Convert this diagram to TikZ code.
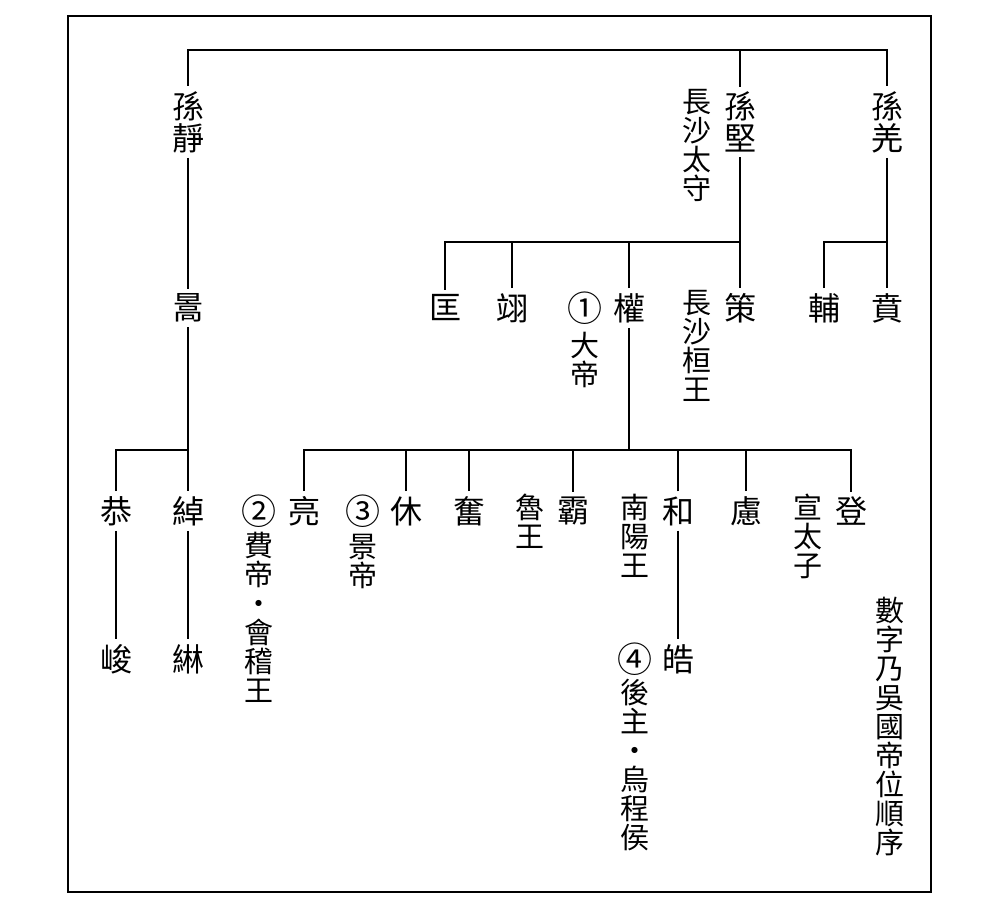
\documentclass[tikz,border=0pt]{standalone}
\usepackage{fontspec}
\setmainfont{Noto Sans CJK TC}
\begin{document}
\begin{tikzpicture}[x=1pt,y=-1pt,
  person/.style={font=\fontsize{32pt}{32pt}\selectfont, align=center, inner xsep=1pt, inner ysep=5pt},
  order/.style={font=\fontsize{35pt}{35pt}\selectfont, inner sep=0pt},
  note/.style={font=\fontsize{29pt}{29pt}\selectfont, align=center, inner sep=0pt, anchor=north},
  link/.style={line width=1.3pt},
  frame/.style={line width=2pt}]
\useasboundingbox (0,0) rectangle (1000,909);
\draw[frame] (68,16) rectangle (931,892);

% levels of the horizontal bars
\coordinate (bar0) at (0,50);
\coordinate (bar1) at (0,242);
\coordinate (bar2) at (0,450);

% first generation
\node[person] (jing)  at (188,122) {孫\\靜};
\node[person] (jian)  at (740,122) {孫\\堅};
\node[person] (qiang) at (887,122) {孫\\羌};
\node[note] (jiannote) at (697,89) {長\\沙\\太\\守};

% second generation
\node[person] (hao)   at (188,308) {暠};
\node[person] (kuang) at (445,308) {匡};
\node[person] (yi)    at (512,308) {翊};
\node[person] (quan)  at (629,308) {權};
\node[person] (ce)    at (740,308) {策};
\node[person] (fu)    at (824,308) {輔};
\node[person] (ben)   at (887,308) {賁};
\node[order] (n1)     at (585,308) {①};
\node[note] (quannote) at (585,332) {大\\帝};
\node[note] (cenote)   at (697,290) {長\\沙\\桓\\王};

% third generation
\node[person] (gong)  at (116,511) {恭};
\node[person] (chuo)  at (188,511) {綽};
\node[person] (liang) at (304,511) {亮};
\node[person] (xiu)   at (406,511) {休};
\node[person] (fen)   at (469,511) {奮};
\node[person] (ba)    at (573,511) {霸};
\node[person] (he)    at (678,511) {和};
\node[person] (lu)    at (746,511) {慮};
\node[person] (deng)  at (851,511) {登};
\node[order] (n2)     at (259,511) {②};
\node[order] (n3)     at (363,511) {③};
\node[note] (liangnote) at (259,532) {費\\帝\\・\\會\\稽\\王};
\node[note] (xiunote)   at (363,534) {景\\帝};
\node[note] (fennote)   at (530,494) {魯\\王};
\node[note] (hanote)    at (635,494) {南\\陽\\王};
\node[note] (dengnote)  at (808,494) {宣\\太\\子};

% fourth generation
\node[person] (jun)   at (116,659) {峻};
\node[person] (lin)   at (188,659) {綝};
\node[person] (hao2)  at (678,659) {皓};
\node[order] (n4)     at (635,659) {④};
\node[note] (haonote) at (635,679) {後\\主\\・\\烏\\程\\侯};

\node[note] (legend) at (890,597) {數\\字\\乃\\吳\\國\\帝\\位\\順\\序};

% connectors
\draw[link] (jing.north) -- (jing.north |- bar0) -- (qiang.north |- bar0) -- (qiang.north);
\draw[link] (jian.north) -- (jian.north |- bar0);

\draw[link] (jing.south) -- (hao.north);
\draw[link] (hao.south) -- (chuo.north);
\draw[link] (gong.north) -- (gong.north |- bar2) -- (chuo.north |- bar2);
\draw[link] (gong.south) -- (jun.north);
\draw[link] (chuo.south) -- (lin.north);

\draw[link] (jian.south) -- (ce.north);
\draw[link] (kuang.north) -- (kuang.north |- bar1) -- (ce.north |- bar1);
\draw[link] (yi.north) -- (yi.north |- bar1);
\draw[link] (quan.north) -- (quan.north |- bar1);

\draw[link] (qiang.south) -- (ben.north);
\draw[link] (fu.north) -- (fu.north |- bar1) -- (ben.north |- bar1);

\draw[link] (quan.south) -- (quan.south |- bar2);
\draw[link] (liang.north) -- (liang.north |- bar2) -- (deng.north |- bar2) -- (deng.north);
\foreach \c in {xiu,fen,ba,he,lu}
  \draw[link] (\c.north) -- (\c.north |- bar2);
\draw[link] (he.south) -- (hao2.north);
\end{tikzpicture}
\end{document}
